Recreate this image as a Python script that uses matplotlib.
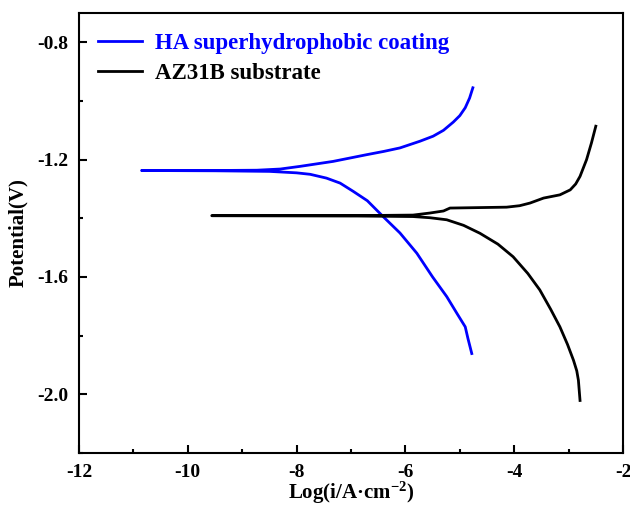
import matplotlib
matplotlib.use('Agg')
import matplotlib.pyplot as plt
from matplotlib.ticker import MultipleLocator

plt.rcParams['font.family'] = 'Liberation Serif'
plt.rcParams['font.weight'] = 'bold'
plt.rcParams['mathtext.fontset'] = 'custom'
plt.rcParams['mathtext.rm'] = 'Liberation Serif:bold'
plt.rcParams['mathtext.bf'] = 'Liberation Serif:bold'
plt.rcParams['mathtext.default'] = 'bf'

# HA superhydrophobic coating: cathodic branch -> Ecorr -> anodic branch
ha_logi = [-4.78, -4.85, -4.90, -5.05, -5.24, -5.50, -5.79, -6.10, -6.41,
           -6.70, -6.96, -7.20, -7.45, -7.75, -8.00, -8.50, -9.50, -10.85,
           -9.50, -8.73, -8.30, -7.94, -7.33, -6.71, -6.40, -6.10, -5.73,
           -5.49, -5.30, -5.12, -5.00, -4.90, -4.82, -4.76]
ha_pot = [-1.861, -1.810, -1.770, -1.725, -1.667, -1.600, -1.519, -1.450,
          -1.394, -1.340, -1.308, -1.280, -1.263, -1.250, -1.245, -1.240,
          -1.238, -1.237, -1.237, -1.236, -1.232, -1.223, -1.206, -1.183,
          -1.172, -1.160, -1.137, -1.120, -1.100, -1.072, -1.050, -1.023,
          -0.990, -0.955]

# AZ31B substrate
az_logi = [-2.79, -2.82, -2.85, -2.91, -3.02, -3.16, -3.33, -3.53, -3.75,
           -4.02, -4.30, -4.63, -4.93, -5.24, -5.55, -5.86, -7.00, -9.56,
           -7.00, -5.86, -5.55, -5.30, -5.18, -4.14, -3.90, -3.71, -3.46,
           -3.16, -2.97, -2.87, -2.79, -2.67, -2.58, -2.50]
az_pot = [-2.021, -1.952, -1.920, -1.884, -1.830, -1.770, -1.710, -1.644,
          -1.588, -1.531, -1.488, -1.451, -1.424, -1.405, -1.398, -1.394,
          -1.392, -1.391, -1.391, -1.389, -1.382, -1.375, -1.365, -1.362,
          -1.357, -1.348, -1.331, -1.320, -1.303, -1.283, -1.257, -1.200,
          -1.143, -1.086]

labels = ['HA superhydrophobic coating', 'AZ31B substrate']
colors = ['#0000ff', '#000000']

fig = plt.figure(figsize=(6.3, 5.05), dpi=100)
ax = fig.add_axes([0.1254, 0.103, 0.8635, 0.8713])

ax.plot(ha_logi, ha_pot, color=colors[0], lw=2.0, label=labels[0])
ax.plot(az_logi, az_pot, color=colors[1], lw=2.0, label=labels[1])

ax.set_xlim(-12, -2)
ax.set_ylim(-2.2, -0.7)
ax.xaxis.set_major_locator(MultipleLocator(2))
ax.xaxis.set_minor_locator(MultipleLocator(1))
ax.yaxis.set_major_locator(MultipleLocator(0.4))
ax.yaxis.set_minor_locator(MultipleLocator(0.2))
ax.yaxis.set_major_formatter(plt.FuncFormatter(lambda v, p: f'{v:.1f}'))
ax.xaxis.set_major_formatter(plt.FuncFormatter(lambda v, p: f'{v:.0f}'))

ax.tick_params(which='major', direction='in', length=6, width=1.5,
               labelsize=14, pad=8)
ax.tick_params(which='minor', direction='in', length=3, width=1.5)
for s in ax.spines.values():
    s.set_linewidth(1.5)

ax.set_xlabel('Log(i/A·cm$^{-2}$)', fontsize=15, fontweight='bold', labelpad=-1)
ax.set_ylabel('Potential(V)', fontsize=15, fontweight='bold', labelpad=6)

leg = ax.legend(loc='upper left', bbox_to_anchor=(0.035, 0.955),
                frameon=False, fontsize=16.5, handlelength=1.9,
                handletextpad=0.6, labelspacing=0.4, borderpad=0,
                borderaxespad=0)
for txt, c in zip(leg.get_texts(), colors):
    txt.set_color(c)

fig.savefig('out.png', dpi=100)
